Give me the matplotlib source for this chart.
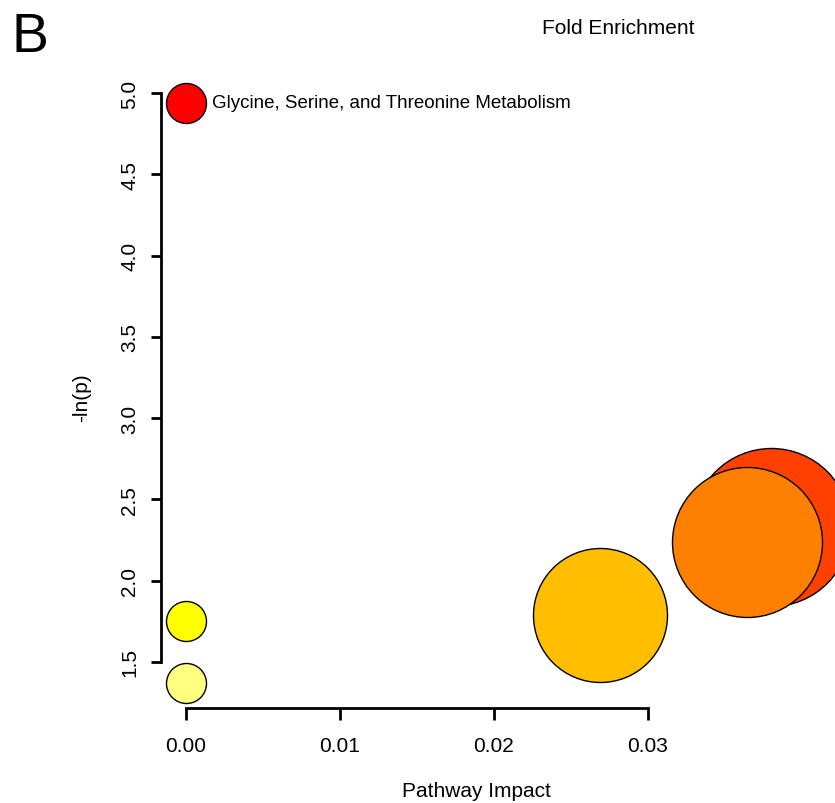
import matplotlib.pyplot as plt
import numpy as np

plt.rcParams['font.family'] = ['Liberation Sans', 'DejaVu Sans']

# pathway table, sorted by -ln(p)
labels = ['Glycine, Serine, and Threonine Metabolism', '', '', '', '', '']
impact = [0.0, 0.0380, 0.0364, 0.0269, 0.0, 0.0]
neg_log_p = [4.94, 2.33, 2.24, 1.79, 1.75, 1.37]
enrichment = [1.0, 3.95, 3.75, 3.35, 1.0, 1.0]
heat = ['#FF0000', '#FF4000', '#FF8000', '#FFBF00', '#FFFF00', '#FFFF80']

fig = plt.figure(figsize=(8.35, 8.04), dpi=100)
ax = fig.add_axes([0.1928, 0.1182, 0.7892, 0.7948])

sizes = (np.array(enrichment) * 28.8) ** 2
for i in range(len(impact)):
    ax.scatter(impact[i], neg_log_p[i], s=sizes[i], c=heat[i],
               edgecolors='black', linewidths=1.0, clip_on=False, zorder=3 + i)
    if labels[i]:
        ax.annotate(labels[i], (impact[i], neg_log_p[i]), xytext=(19, 0),
                    textcoords='offset points', va='center', ha='left',
                    fontsize=13.5)

ax.set_xlim(-0.00162, 0.04117)
ax.set_ylim(1.217, 5.148)

for side in ['top', 'right']:
    ax.spines[side].set_visible(False)
ax.spines['left'].set_bounds(1.5, 5.0)
ax.spines['bottom'].set_bounds(0.0, 0.03)
for side in ['left', 'bottom']:
    ax.spines[side].set_linewidth(2.0)

ax.set_xticks([0.0, 0.01, 0.02, 0.03])
ax.set_xticklabels(['0.00', '0.01', '0.02', '0.03'])
ax.set_yticks([1.5, 2.0, 2.5, 3.0, 3.5, 4.0, 4.5, 5.0])
ax.tick_params(axis='x', length=8.5, width=2.0, labelsize=15, pad=12)
ax.tick_params(axis='y', length=7.5, width=2.0, labelsize=15, pad=8)
for lab in ax.get_yticklabels():
    lab.set_rotation(90)
    lab.set_va('center')

fig.text(476 / 835, 1 - 792 / 804, 'Pathway Impact', ha='center', va='center',
         fontsize=15)
fig.text(82 / 835, 1 - 398 / 804, '-ln(p)', ha='center', va='center',
         rotation=90, fontsize=15)
fig.text(618 / 835, 1 - 28 / 804, 'Fold Enrichment', ha='center', va='center',
         fontsize=15)
fig.text(12 / 835, 1 - 52 / 804, 'B', ha='left', va='baseline', fontsize=40)

fig.savefig('out.png', dpi=100)
